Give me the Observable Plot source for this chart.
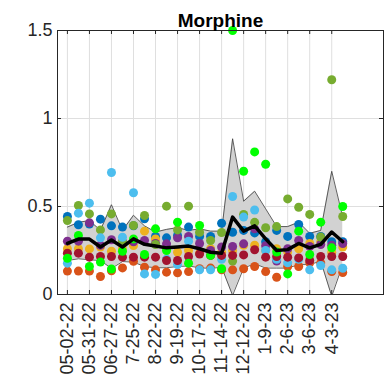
<!DOCTYPE html>
<html><head><meta charset="utf-8">
<script src="https://cdn.jsdelivr.net/npm/d3@7"></script>
<script src="https://cdn.jsdelivr.net/npm/@observablehq/plot@0.6"></script>
<style>body{margin:0;background:#fff}svg{display:block}</style>
</head><body><div id="chart"></div>
<script>
// categorical sample positions (bi-weekly samples), labels every 4 weeks
const tickPositions = [0,2,4,6,8,10,12,14,16,18,20,22,24];
const tickLabels = ["05-02-22","05-31-22","06-27-22","7-25-22","8-22-22","9-19-22","10-17-22","11-14-22","12-12-22","1-9-23","2-6-23","3-6-23","4-3-23"];
const yTicks = [0, 0.5, 1, 1.5];
const xLimits = [-0.9, 28.7];
const yLimits = [0, 1.5];

// site series (26 samples each)
const site1 = [.443,.396,.40,.428,.39,.383,.39,.43,.33,.322,.335,.383,.33,.33,.405,.354,.364,.35,.30,.364,.33,.398,.33,.33,.30,.30];
const site2 = [.133,.133,.133,.102,.135,.151,.189,.155,.14,.127,.123,.13,.146,.15,.14,.14,.146,.159,.13,.098,.159,.159,.18,.18,.13,.125];
const site3 = [.26,.26,.259,.27,.246,.26,.278,.36,.316,.26,.24,.25,.235,.26,.24,.25,.28,.28,.25,.26,.241,.26,.29,.30,.24,.27];
const site4 = [.303,.303,.407,.28,.311,.30,.30,.307,.29,.288,.322,.33,.29,.25,.27,.273,.288,.373,.277,.19,.26,.307,.273,.284,.28,.29];
const site5 = [.42,.506,.458,.367,.458,.30,.392,.449,.284,.502,.367,.502,.354,.307,.352,.19,.455,.41,.379,.386,.543,.496,.455,.326,1.22,.443];
const site6 = [.178,.462,.519,.322,.693,.325,.578,.117,.114,.20,.17,.303,.14,.14,.20,.557,.44,.48,.25,.20,.18,.20,.14,.165,.14,.149];
const site7 = [.235,.235,.212,.216,.216,.212,.212,.212,.212,.193,.193,.216,.23,.222,.222,.222,.225,.254,.212,.216,.212,.208,.193,.216,.216,.216];
const site8 = [.206,.335,.159,.184,.145,.246,.316,.227,.373,.25,.411,.178,.392,.222,.146,1.5,.70,.81,.74,.241,.117,.36,.227,.411,.265,.50];

// mean line and shaded band
const meanLine  = [.29,.315,.315,.27,.31,.27,.316,.285,.275,.265,.27,.275,.26,.24,.235,.44,.36,.39,.316,.25,.255,.29,.265,.285,.355,.30];
const bandUpper = [.383,.41,.42,.365,.51,.364,.45,.39,.355,.37,.38,.364,.373,.36,.36,.885,.53,.587,.487,.386,.386,.411,.348,.364,.70,.44];
const bandLower = [.193,.203,.197,.193,.148,.187,.184,.159,.152,.152,.159,.162,.152,.148,.155,-.005,.15,.175,.15,.15,.15,.17,.17,.19,-.01,.17];

const seriesNames = ["S1","S2","S3","S4","S5","S6","S7","S8"];
const seriesData = [site1, site2, site3, site4, site5, site6, site7, site8];
const seriesColors = ["#0072BD","#D95319","#EDB120","#7E2F8E","#77AC30","#4DBEEE","#A2142F","#00FF00"];

const dots = [];
seriesData.forEach((arr, s) => arr.forEach((v, i) => dots.push({i, v, s: seriesNames[s]})));
const band = meanLine.map((m, i) => ({i, m, hi: bandUpper[i], lo: bandLower[i]}));

const ink = "#262626";
const chart = Plot.plot({
  width: 384, height: 390,
  marginLeft: 57, marginRight: 1, marginTop: 30, marginBottom: 96,
  style: {fontFamily: "'Liberation Sans', Arial, sans-serif", fontSize: "18px", color: ink, background: "#fff"},
  x: {domain: xLimits, axis: null},
  y: {domain: yLimits, axis: null},
  color: {type: "ordinal", domain: seriesNames, range: seriesColors},
  marks: [
    Plot.gridX(tickPositions, {stroke: "#dfdfdf", strokeOpacity: 1}),
    Plot.gridY(yTicks, {stroke: "#dfdfdf", strokeOpacity: 1}),
    Plot.areaY(band, {x: "i", y1: "lo", y2: "hi", fill: "#d2d2d2", clip: true}),
    Plot.line(band, {x: "i", y: "hi", stroke: "#3a3a3a", strokeWidth: 0.8, clip: true}),
    Plot.line(band, {x: "i", y: "lo", stroke: "#3a3a3a", strokeWidth: 0.8, clip: true}),
    Plot.dot(dots, {x: "i", y: "v", fill: "s", r: 4.5}),
    Plot.line(band, {x: "i", y: "m", stroke: "#000", strokeWidth: 3.5}),
    Plot.frame({stroke: ink, strokeWidth: 1}),
    // inward tick marks (MATLAB style)
    Plot.ruleX(tickPositions, {x: d => d, y1: yLimits[0], y2: yLimits[0], insetBottom: 4, stroke: ink}),
    Plot.ruleX(tickPositions, {x: d => d, y1: yLimits[1], y2: yLimits[1], insetTop: 4, stroke: ink}),
    Plot.ruleY(yTicks, {y: d => d, x1: xLimits[0], x2: xLimits[0], insetLeft: 4, stroke: ink}),
    Plot.ruleY(yTicks, {y: d => d, x1: xLimits[1], x2: xLimits[1], insetRight: 4, stroke: ink}),
    Plot.axisX(tickPositions, {tickFormat: d => tickLabels[tickPositions.indexOf(d)], tickRotate: -90, tickSize: 0, tickPadding: 8, fontSize: 18, fill: ink, label: null}),
    Plot.axisY(yTicks, {tickFormat: d => String(d), tickSize: 0, tickPadding: 5, fontSize: 18, fill: ink, label: null}),
    Plot.text(["Morphine"], {frameAnchor: "top", text: d => d, dy: -17, fontSize: 19, fontWeight: "bold", fill: "#000"})
  ]
});
document.getElementById("chart").appendChild(chart);
</script>
</body></html>
